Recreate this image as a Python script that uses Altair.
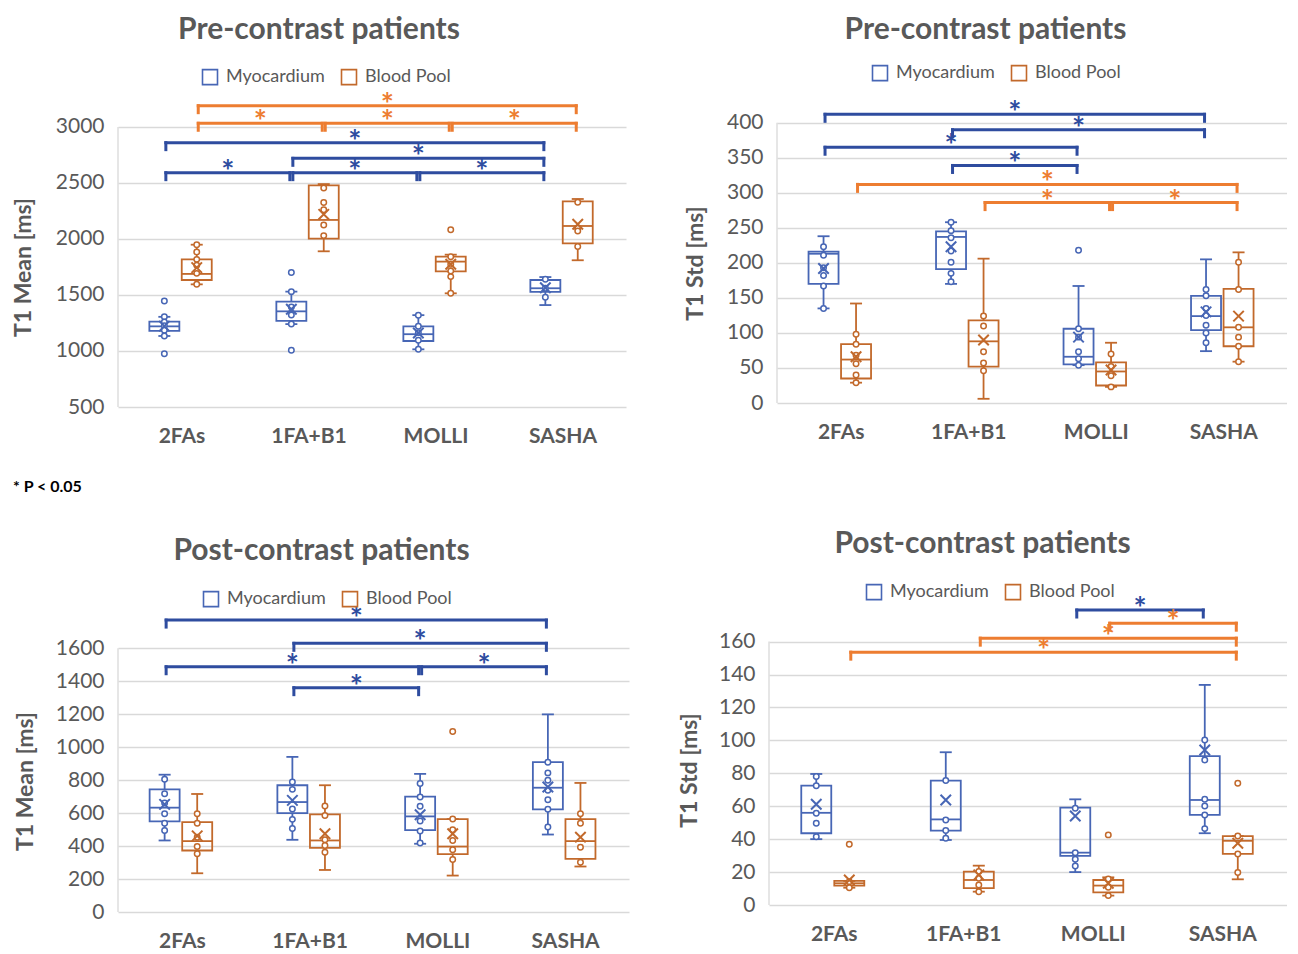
import json
import altair as alt
import pandas as pd

CATS = ["2FAs", "1FA+B1", "MOLLI", "SASHA"]
SERIES = ["Myocardium", "Blood Pool"]
BOX_COLORS = ["#4766B5", "#C2692B"]
BRACKET_COLORS = ["#2E4C9F", "#ED7D31"]
TEXT_GRAY = "#595959"
GRID_GRAY = "#D9D9D9"
FONT = "Lato"
NOTE = "* P < 0.05"

# ---------------- Pre-contrast, T1 Mean ----------------
pre_mean_myo = dict(
    lo=[1134, 1240, 1015, 1410],
    q1=[1180, 1268, 1089, 1527],
    med=[1220, 1354, 1150, 1560],
    q3=[1262, 1440, 1220, 1634],
    hi=[1305, 1530, 1320, 1660],
    mean=[1222, 1372, 1160, 1565],
    pts=[[1447, 1305, 1259, 1225, 1185, 1134, 976],
         [1700, 1530, 1393, 1321, 1240, 1006],
         [1320, 1220, 1164, 1095, 1015],
         [1640, 1560, 1480]],
)
pre_mean_blood = dict(
    lo=[1595, 1890, 1515, 1810],
    q1=[1634, 2003, 1711, 1961],
    med=[1688, 2170, 1798, 2116],
    q3=[1818, 2479, 1842, 2336],
    hi=[1949, 2490, 1860, 2357],
    mean=[1744, 2220, 1774, 2131],
    pts=[[1949, 1884, 1818, 1765, 1693, 1595],
         [2455, 2325, 2260, 2125, 2030],
         [2083, 1842, 1774, 1714, 1664, 1515],
         [2327, 2095, 2071, 1932]],
)
pre_mean_br_series = ["Blood Pool"] * 4 + ["Myocardium"] * 5
pre_mean_br_from = [0, 0, 1, 2, 0, 1, 0, 1, 2]
pre_mean_br_to = [3, 1, 2, 3, 3, 3, 1, 2, 3]
pre_mean_br_level = [3190, 3033, 3033, 3033, 2860, 2720, 2592, 2592, 2592]

# ---------------- Pre-contrast, T1 Std ----------------
pre_std_myo = dict(
    lo=[135, 170, 54, 74],
    q1=[170, 191, 55, 104],
    med=[213, 237, 66, 124],
    q3=[216, 245, 106, 153],
    hi=[238, 258, 167, 205],
    mean=[192, 223, 94, 130],
    pts=[[223, 211, 193, 182, 167, 135],
         [258, 246, 236, 217, 201, 185, 173],
         [218, 106, 94, 73, 63, 54],
         [162, 153, 135, 125, 111, 100, 86]],
)
pre_std_blood = dict(
    lo=[29, 6, 23, 59],
    q1=[35, 52, 25, 81],
    med=[62, 88, 45, 108],
    q3=[84, 118, 58, 163],
    hi=[142, 206, 86, 215],
    mean=[66, 90, 47, 124],
    pts=[[98, 84, 68, 56, 40, 29],
         [124, 110, 73, 57, 46],
         [70, 52, 39, 23],
         [201, 162, 108, 94, 81, 59]],
)
pre_std_br_series = ["Myocardium"] * 4 + ["Blood Pool"] * 3
pre_std_br_from = [0, 1, 0, 1, 0, 1, 2]
pre_std_br_to = [3, 3, 2, 2, 3, 2, 3]
pre_std_br_level = [412, 390, 365, 339, 312, 286, 286]

# ---------------- Post-contrast, T1 Mean ----------------
post_mean_myo = dict(
    lo=[434, 438, 414, 470],
    q1=[550, 600, 497, 623],
    med=[633, 667, 580, 754],
    q3=[744, 769, 700, 909],
    hi=[833, 941, 838, 1199],
    mean=[653, 677, 590, 758],
    pts=[[805, 718, 661, 596, 539, 495],
         [789, 744, 625, 562, 507],
         [779, 698, 641, 552, 491, 418],
         [909, 844, 799, 738, 681, 623, 515]],
)
post_mean_blood = dict(
    lo=[235, 255, 221, 276],
    q1=[373, 389, 351, 322],
    med=[430, 434, 397, 430],
    q3=[545, 592, 564, 564],
    hi=[716, 769, 564, 783],
    mean=[462, 475, 475, 454],
    pts=[[596, 539, 454, 397, 353],
         [643, 586, 438, 404, 363],
         [1095, 564, 499, 434, 377, 318],
         [596, 539, 393, 302]],
)
post_mean_br_series = ["Myocardium"] * 5
post_mean_br_from = [0, 1, 0, 2, 1]
post_mean_br_to = [3, 3, 2, 3, 2]
post_mean_br_level = [1771, 1630, 1488, 1488, 1361]

# ---------------- Post-contrast, T1 Std ----------------
post_std_myo = dict(
    lo=[40, 39.5, 20, 43.6],
    q1=[43.6, 45.2, 29.8, 54.7],
    med=[56, 52, 31.8, 63.8],
    q3=[72.5, 75.6, 59.2, 90.5],
    hi=[79.6, 92.8, 64.2, 133.7],
    mean=[61.2, 63.8, 54.1, 94.2],
    pts=[[78, 72.5, 55.7, 49.6, 41.5],
         [75.6, 51.7, 45.2, 40.5],
         [58.8, 31.8, 27.8, 23.7],
         [100.3, 88.1, 64.2, 60.2, 54.7, 46.4]],
)
post_std_blood = dict(
    lo=[10.5, 8.1, 5.7, 15.6],
    q1=[11.8, 10.2, 7.7, 31],
    med=[13.2, 15.2, 11.8, 39],
    q3=[14.6, 20.3, 15.2, 41.9],
    hi=[14.6, 23.9, 16.8, 41.9],
    mean=[15.2, 18.3, 13.2, 37.5],
    pts=[[36.9, 14.2, 10.5],
         [20.3, 16.2, 12.2, 8.1],
         [42.6, 15.8, 10.8, 5.7],
         [73.9, 41.9, 31, 19.7]],
)
post_std_br_series = ["Myocardium", "Blood Pool", "Blood Pool", "Blood Pool"]
post_std_br_from = [2, 2, 1, 0]
post_std_br_to = [3, 3, 3, 3]
post_std_br_level = [179.2, 171.2, 162.1, 153.6]

OFFSETS = {SERIES[0]: -0.135, SERIES[1]: 0.12}


def make_panel(title, ytitle, myo, blood, br, ydomain, yticks, width, height,
               legend_xy, ytitle_xy, title_offset, note=False):
    band = width / 4.0
    half = 15.0 / band
    cap = 6.0 / band
    upx = (ydomain[1] - ydomain[0]) / height
    drop = 7.0 * upx
    gap = 1.5 / band

    boxes, whisk, caps, pts = [], [], [], []
    for s, st in zip(SERIES, [myo, blood]):
        for i, c in enumerate(CATS):
            p = i + OFFSETS[s]
            boxes.append(dict(series=s, pos=p, left=p - half, right=p + half,
                              q1=st["q1"][i], med=st["med"][i], q3=st["q3"][i],
                              mean=st["mean"][i]))
            whisk.append(dict(series=s, pos=p, a=st["lo"][i], b=st["q1"][i]))
            whisk.append(dict(series=s, pos=p, a=st["q3"][i], b=st["hi"][i]))
            caps.append(dict(series=s, l=p - cap, r=p + cap, y=st["lo"][i]))
            caps.append(dict(series=s, l=p - cap, r=p + cap, y=st["hi"][i]))
            for v in st["pts"][i]:
                pts.append(dict(series=s, pos=p, v=v))
    box_df = pd.DataFrame(boxes)
    whisk_df = pd.DataFrame(whisk)
    cap_df = pd.DataFrame(caps)
    pts_df = pd.DataFrame(pts)

    xscale = alt.Scale(domain=[-0.5, 3.5], nice=False, zero=False)
    label_expr = f"{json.dumps(CATS)}[round(datum.value)]"
    xaxis = alt.Axis(values=[0, 1, 2, 3], labelExpr=label_expr, grid=False,
                     domain=False, ticks=False, labelFontSize=21,
                     labelFontWeight="bold", labelColor=TEXT_GRAY,
                     labelPadding=18, labelFont=FONT, title=None)
    yscale = alt.Scale(domain=ydomain, nice=False, zero=False)
    yaxis = alt.Axis(values=yticks, format="d", grid=True, gridColor=GRID_GRAY,
                     gridWidth=1.3, domain=False, ticks=False, labelFontSize=21,
                     labelColor=TEXT_GRAY, labelPadding=14, labelFont=FONT,
                     title=ytitle, titleFontSize=23, titleFontWeight="bold",
                     titleColor=TEXT_GRAY, titleFont=FONT,
                     titleX=ytitle_xy[0], titleY=ytitle_xy[1],
                     titleBaseline="middle", titleAlign="center")

    def X(f):
        return alt.X(f, type="quantitative", scale=xscale, axis=xaxis, title=None)

    def Y(f):
        return alt.Y(f, type="quantitative", scale=yscale, axis=yaxis, title=ytitle)

    legend = alt.Legend(title=None, orient="none", legendX=legend_xy[0],
                        legendY=legend_xy[1], direction="horizontal",
                        symbolType="square", symbolSize=225, symbolStrokeWidth=1.6,
                        symbolFillColor="white", labelFontSize=18,
                        labelColor=TEXT_GRAY, labelFont=FONT, columnPadding=13,
                        labelOffset=7)
    stroke = alt.Stroke("series:N", scale=alt.Scale(domain=SERIES, range=BOX_COLORS),
                        legend=legend)

    frame_df = pd.DataFrame({"x": [-0.5], "y0": [yticks[0]], "y1": [yticks[-1]]})
    layers = [
        alt.Chart(frame_df).mark_rule(color=GRID_GRAY, strokeWidth=1.3).encode(
            x=X("x"), y=Y("y0"), y2="y1"),
        alt.Chart(whisk_df).mark_rule(strokeWidth=1.8).encode(
            x=X("pos"), y=Y("a"), y2="b", stroke=stroke),
        alt.Chart(cap_df).mark_rule(strokeWidth=1.8).encode(
            x=X("l"), x2="r", y=Y("y"), stroke=stroke),
        alt.Chart(box_df).mark_rect(filled=False, strokeWidth=1.8).encode(
            x=X("left"), x2="right", y=Y("q1"), y2="q3", stroke=stroke),
        alt.Chart(box_df).mark_rule(strokeWidth=1.8).encode(
            x=X("left"), x2="right", y=Y("med"), stroke=stroke),
        alt.Chart(pts_df).mark_point(shape="circle", size=30, filled=True,
                                     fill="white", strokeWidth=1.5, opacity=1).encode(
            x=X("pos"), y=Y("v"), stroke=stroke),
        alt.Chart(box_df).mark_point(shape="M-1,-1L1,1M-1,1L1,-1", size=110,
                                     filled=False, strokeWidth=2, opacity=1).encode(
            x=X("pos"), y=Y("mean"), stroke=stroke),
    ]

    bl = []
    for s, a, b, lev in zip(*br):
        xa = a + OFFSETS[s] + gap
        xb = b + OFFSETS[s] - gap
        bl.append(dict(series=s, xa=xa, xb=xb, xm=(xa + xb) / 2, y=lev, yd=lev - drop))
    bdf = pd.DataFrame(bl)
    for si, s in enumerate(SERIES):
        sub = bdf[bdf["series"] == s]
        if sub.empty:
            continue
        col = BRACKET_COLORS[si]
        base = alt.Chart(sub)
        layers += [
            base.mark_rule(color=col, strokeWidth=3, strokeCap="square").encode(
                x=X("xa"), x2="xb", y=Y("y")),
            base.mark_rule(color=col, strokeWidth=3, strokeCap="square").encode(
                x=X("xa"), y=Y("y"), y2="yd"),
            base.mark_rule(color=col, strokeWidth=3, strokeCap="square").encode(
                x=X("xb"), y=Y("y"), y2="yd"),
            base.mark_text(text="*", color=col, fontSize=31, fontWeight="bold",
                           font=FONT, baseline="alphabetic", dy=9).encode(
                x=X("xm"), y=Y("y")),
        ]

    if note:
        layers.append(
            alt.Chart(pd.DataFrame({"t": [NOTE]})).mark_text(
                align="left", baseline="middle", fontSize=16, fontWeight="bold",
                color="black", font=FONT).encode(
                x=alt.value(-105), y=alt.value(397), text="t:N"))

    return alt.layer(*layers).properties(
        width=width, height=height,
        title=alt.TitleParams(title, fontSize=30, fontWeight="bold", color=TEXT_GRAY,
                              font=FONT, anchor="middle", frame="bounds",
                              offset=title_offset))


p1 = make_panel("Pre-contrast patients", "T1 Mean [ms]", pre_mean_myo, pre_mean_blood,
                (pre_mean_br_series, pre_mean_br_from, pre_mean_br_to, pre_mean_br_level),
                [500, 3330], [500, 1000, 1500, 2000, 2500, 3000], 508, 317,
                (83, -22), (-95, 177), 23, note=True)
p2 = make_panel("Pre-contrast patients", "T1 Std [ms]", pre_std_myo, pre_std_blood,
                (pre_std_br_series, pre_std_br_from, pre_std_br_to, pre_std_br_level),
                [0, 446.7], [0, 50, 100, 150, 200, 250, 300, 350, 400], 510, 313,
                (94, -26), (-82, 173), 19)
p3 = make_panel("Post-contrast patients", "T1 Mean [ms]", post_mean_myo, post_mean_blood,
                (post_mean_br_series, post_mean_br_from, post_mean_br_to, post_mean_br_level),
                [0, 1905], [0, 200, 400, 600, 800, 1000, 1200, 1400, 1600], 511, 314,
                (84, -8), (-93, 183), 24)
p4 = make_panel("Post-contrast patients", "T1 Std [ms]", post_std_myo, post_std_blood,
                (post_std_br_series, post_std_br_from, post_std_br_to, post_std_br_level),
                [0, 186.5], [0, 20, 40, 60, 80, 100, 120, 140, 160], 518, 307,
                (96, -15), (-80, 172), 24)


def indep(c):
    return c.resolve_scale(x="independent", y="independent",
                           stroke="independent").resolve_legend(stroke="independent")


top = indep(alt.hconcat(p1, p2, spacing=58))
bottom = indep(alt.hconcat(p3, p4, spacing=49))
chart = indep(alt.vconcat(top, bottom, spacing=34)).properties(
    padding={"left": 4, "top": 7, "right": 0, "bottom": 0}
).configure(font=FONT).configure_view(stroke=None)

chart.save("out.html", embed_options={"renderer": "svg", "actions": False})
